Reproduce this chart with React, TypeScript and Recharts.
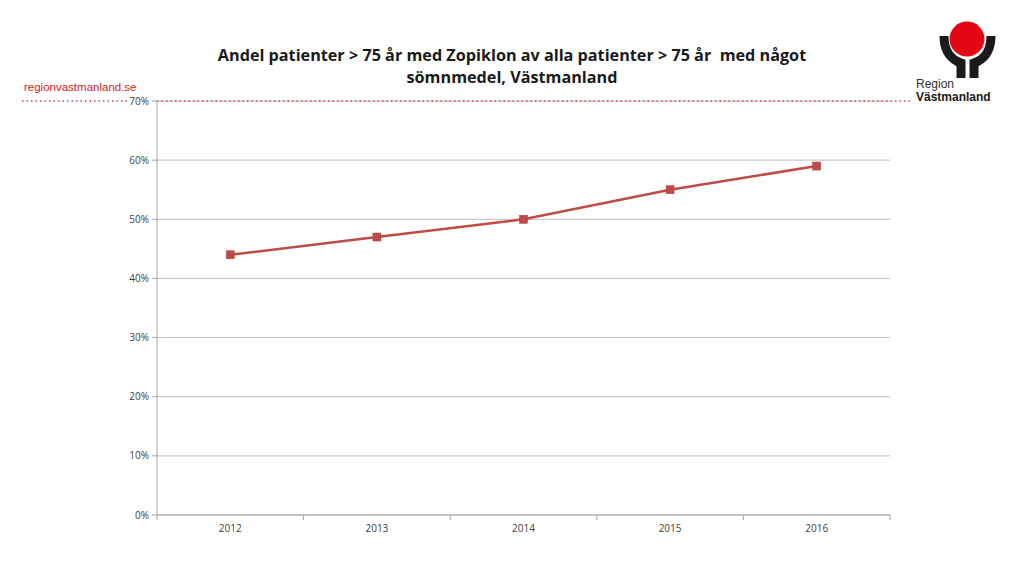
import {CartesianGrid, Line, LineChart, XAxis, YAxis} from "recharts";

const years = ["2012", "2013", "2014", "2015", "2016"];
const zopiklonShare = [44, 47, 50, 55, 59];
const percentTicks = [0, 10, 20, 30, 40, 50, 60, 70];

const data = years.map((year, i) => ({year, share: zopiklonShare[i]}));

const RED = "#be4b48";
const AXIS = "#a6a6a6";
const FONT = "'Open Sans', 'Liberation Sans', sans-serif";
const NARROW = "'Liberation Sans', Arial, sans-serif";

const YearTick = (props: any) => {
    const {x, y, payload, index, visibleTicksCount} = props;
    const half = payload.offset ?? 0;
    return (
        <g>
            <line x1={x - half} x2={x - half} y1={y} y2={y + 5} stroke={AXIS}/>
            {index === visibleTicksCount - 1 && (
                <line x1={x + half} x2={x + half} y1={y} y2={y + 5} stroke={AXIS}/>
            )}
            <text x={x} y={y + 17} textAnchor="middle" fontSize={10} fill="#404040" fontFamily={FONT}>
                {payload.value}
            </text>
        </g>
    );
};

const SquareDot = (props: any) => {
    const {cx, cy} = props;
    return <rect x={cx - 4} y={cy - 4} width={8} height={8} fill={RED} stroke="#a83e3b" strokeWidth={0.5}/>;
};

const Logo = () => (
    <svg width={1024} height={576} style={{position: "absolute", left: 0, top: 0, pointerEvents: "none"}}>
        <line x1={22} x2={127} y1={101} y2={101} stroke="#c0504d" strokeDasharray="1.5 3" strokeWidth={1.5}/>
        <line x1={157} x2={910} y1={101} y2={101} stroke="#c0504d" strokeDasharray="1.5 3" strokeWidth={1.5}/>
        <circle cx={967} cy={39} r={17.5} fill="#e30613"/>
        <path d="M944 36 C944 52 952 60 961 63 L961 78" fill="none" stroke="#1a1a1a" strokeWidth={9}/>
        <path d="M991 36 C991 52 983 60 974 63 L974 78" fill="none" stroke="#1a1a1a" strokeWidth={9}/>
        <text x={916} y={88} fontSize={12} fill="#333" fontFamily={NARROW}>Region</text>
        <text x={916} y={101} fontSize={12} fontWeight="bold" fill="#1a1a1a" fontFamily={NARROW}>Västmanland</text>
    </svg>
);

const App = () => {
    return (
        <div style={{position: "absolute", left: 0, top: 0, width: 1024, height: 576, background: "#fff"}}>
            <div style={{
                position: "absolute", left: 0, top: 44, width: 1024, textAlign: "center",
                fontFamily: FONT, fontWeight: "bold", fontSize: 16.2, lineHeight: "22px", color: "#1a1a1a"
            }}>
                Andel patienter &gt; 75 år med Zopiklon av alla patienter &gt; 75 år&nbsp; med något<br/>
                sömnmedel, Västmanland
            </div>
            <div style={{
                position: "absolute", left: 24, top: 81, fontFamily: NARROW, fontSize: 11.5,
                lineHeight: "13px", color: "#d2232a"
            }}>
                regionvastmanland.se
            </div>
            <LineChart
                width={1024}
                height={576}
                data={data}
                margin={{top: 101, right: 134, left: 0, bottom: 31}}
                style={{position: "absolute", left: 0, top: 0}}
            >
                <CartesianGrid horizontal vertical={false} stroke="#bfbfbf" strokeWidth={1}/>
                <XAxis
                    dataKey="year"
                    scale="band"
                    height={30}
                    stroke={AXIS}
                    tickLine={false}
                    tickSize={0}
                    tickMargin={0}
                    tick={<YearTick/>}
                />
                <YAxis
                    width={157}
                    domain={[0, 70]}
                    ticks={percentTicks}
                    tickFormatter={(v: number) => `${v}%`}
                    stroke={AXIS}
                    tickSize={5}
                    tickMargin={3}
                    tick={{fontSize: 10, fill: "#404040", fontFamily: FONT}}
                />
                <Line
                    dataKey="share"
                    stroke={RED}
                    strokeWidth={2.5}
                    dot={<SquareDot/>}
                    activeDot={false}
                    isAnimationActive={false}
                />
            </LineChart>
            <Logo/>
        </div>
    );
};

export default App;
